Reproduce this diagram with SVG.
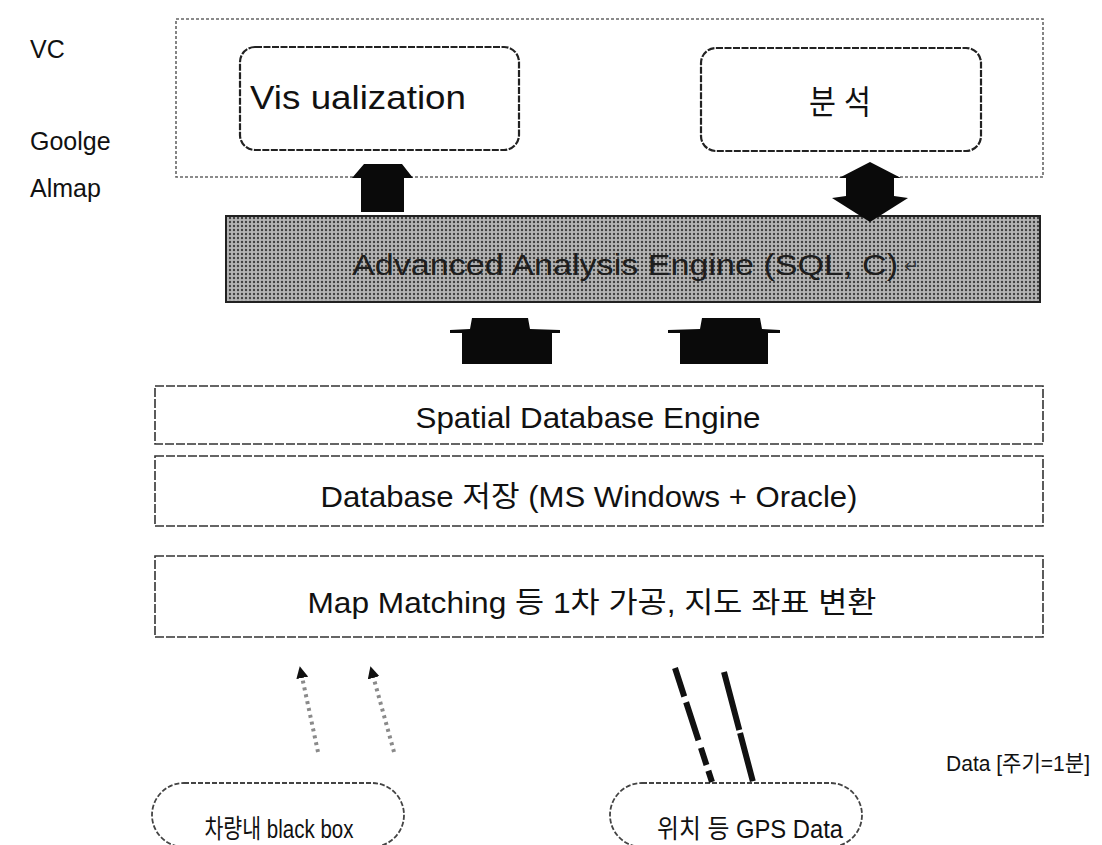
<svg xmlns="http://www.w3.org/2000/svg" width="1102" height="845" viewBox="0 0 1102 845">
<defs>
<style>
.lbl{font-family:"Liberation Sans","Noto Sans CJK KR",Arial,sans-serif;fill:#111}
.side{font-size:25px}
.big{font-size:33px}
.mid{font-size:29px}
.sm{font-size:26px}
.box{fill:#fff;stroke:#333;stroke-width:1.6;stroke-dasharray:9 2}
.round{fill:#fff;stroke:#222;stroke-width:2.2;stroke-dasharray:7 1.5}
.outer{fill:none;stroke:#666;stroke-width:1.6;stroke-dasharray:3 2}
.pill{fill:#fff;stroke:#444;stroke-width:1.8;stroke-dasharray:5 2}
.blk{fill:#0a0a0a}
</style>
<pattern id="halftone" width="4" height="4" patternUnits="userSpaceOnUse">
<rect width="4" height="4" fill="#b4b4b4"/>
<circle cx="2" cy="2" r="1.2" fill="#404040"/>
</pattern>
<marker id="headSmall" viewBox="0 0 10 10" refX="5" refY="5" markerWidth="3" markerHeight="3" orient="auto-start-reverse">
<path d="M0,0 L10,5 L0,10 z" fill="#111"/>
</marker>
</defs>

<g id="side-labels">
<text class="lbl side" x="30" y="58">VC</text>
<text class="lbl side" x="30" y="150">Goolge</text>
<text class="lbl side" x="30" y="197">Almap</text>
</g>

<g id="app-layer">
<rect class="outer" x="176" y="19" width="867" height="158"/>
</g>

<g id="visualization">
<rect class="round" x="240" y="47" width="279" height="103" rx="15"/>
<text class="lbl big" x="358" y="109" text-anchor="middle" textLength="216" lengthAdjust="spacingAndGlyphs">Vis ualization</text>
</g>

<g id="analysis">
<rect class="round" x="701" y="48" width="280" height="103" rx="15"/>
<text class="lbl big" x="840" y="114" text-anchor="middle" textLength="62" lengthAdjust="spacingAndGlyphs">분 석</text>
</g>

<g id="engine">
<rect x="226" y="216" width="814" height="86" fill="url(#halftone)" stroke="#222" stroke-width="2"/>
<text class="lbl mid" x="352" y="275" style="fill:#1e1e1e" textLength="546" lengthAdjust="spacingAndGlyphs">Advanced Analysis Engine (SQL, C)</text>
<text class="lbl" x="904" y="272" style="font-size:18px;fill:#333">↵</text>
</g>

<g id="spatial">
<rect class="box" x="155" y="386" width="888" height="58"/>
<text class="lbl mid" x="588" y="428" text-anchor="middle" textLength="345" lengthAdjust="spacingAndGlyphs">Spatial Database Engine</text>
</g>

<g id="database">
<rect class="box" x="155" y="456" width="888" height="70"/>
<text class="lbl mid" x="589" y="507" text-anchor="middle" textLength="537" lengthAdjust="spacingAndGlyphs">Database 저장 (MS Windows + Oracle)</text>
</g>

<g id="mapmatching">
<rect class="box" x="155" y="556" width="888" height="81"/>
<text class="lbl mid" x="592" y="613" text-anchor="middle" textLength="569" lengthAdjust="spacingAndGlyphs">Map Matching 등 1차 가공, 지도 좌표 변환</text>
</g>

<g id="blackbox">
<rect class="pill" x="152" y="783" width="252" height="64" rx="32"/>
<text class="lbl sm" x="279" y="838" text-anchor="middle" textLength="149" lengthAdjust="spacingAndGlyphs">차량내 black box</text>
</g>

<g id="gps">
<rect class="pill" x="610" y="783" width="252" height="64" rx="32"/>
<text class="lbl sm" x="750" y="838" text-anchor="middle" textLength="186" lengthAdjust="spacingAndGlyphs">위치 등 GPS Data</text>
</g>

<g id="data-label">
<text class="lbl" style="font-size:22px" x="946" y="771" textLength="144" lengthAdjust="spacingAndGlyphs">Data [주기=1분]</text>
</g>

<g id="connectors">
<polygon class="blk" points="352,178 364,164 402,164 413,178 404,178 404,212 361,212 361,178"/>
<polygon class="blk" points="870,162 901,178 894,178 894,196 908,198 870,222 832,198 846,196 846,178 839,178"/>
<polygon class="blk" points="472,318 528,318 530,329 560,330 560,333 552,333 552,364 462,364 462,333 450,333 450,330 470,329"/>
<polygon class="blk" points="702,318 760,318 762,329 780,330 780,333 768,333 768,364 680,364 680,333 668,333 668,330 700,329"/>
<line x1="318" y1="752" x2="301" y2="672" stroke="#8a8a8a" stroke-width="4" stroke-dasharray="3 4" marker-end="url(#headSmall)"/>
<line x1="394" y1="752" x2="372" y2="672" stroke="#8a8a8a" stroke-width="4" stroke-dasharray="3 4" marker-end="url(#headSmall)"/>
<line x1="675" y1="668" x2="712" y2="782" stroke="#111" stroke-width="6" stroke-dasharray="30 6 40 8 18 6"/>
<line x1="724" y1="672" x2="753" y2="782" stroke="#111" stroke-width="6" stroke-dasharray="60 3 50 3"/>
</g>
</svg>
